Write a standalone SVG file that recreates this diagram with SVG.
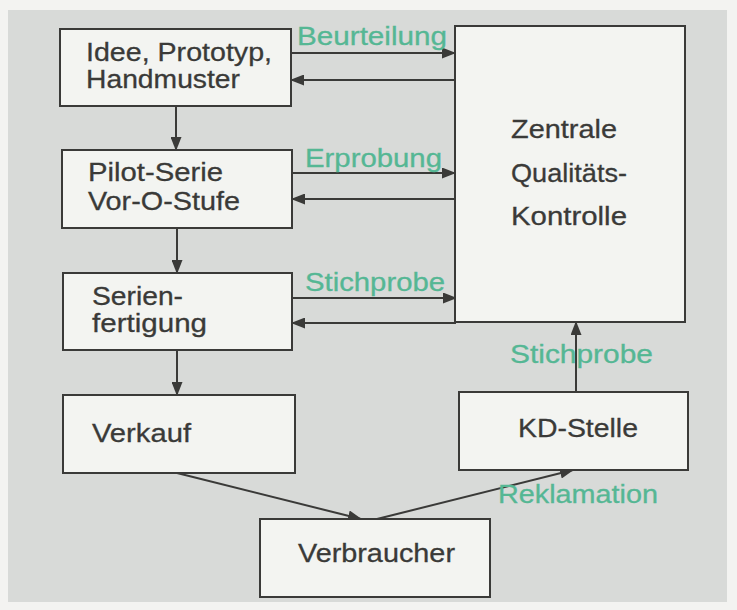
<svg xmlns="http://www.w3.org/2000/svg" width="737" height="610" viewBox="0 0 737 610">
<defs>
<style>
.box{fill:#f3f4f1;stroke:#3a3a38;stroke-width:2}
.t{font-family:"Liberation Sans",Arial,Helvetica,sans-serif;font-size:26px;fill:#3a3a38;stroke:#3a3a38;stroke-width:0.3}
.g{font-family:"Liberation Sans",Arial,Helvetica,sans-serif;font-size:25px;fill:#55b794;stroke:#55b794;stroke-width:0.3}
.c{stroke:#3a3a38;stroke-width:2;fill:none;marker-end:url(#ah)}
</style>
<marker id="ah" markerUnits="userSpaceOnUse" markerWidth="14" markerHeight="11" refX="13" refY="5.5" orient="auto">
<path d="M0,0 L14,5.5 L0,11 z" fill="#3a3a38"/>
</marker>
</defs>
<rect x="0" y="0" width="737" height="610" fill="#f3f3f1"/>
<rect x="8" y="10" width="719" height="592" fill="#d8dad8"/>

<g id="connectors">
<line class="c" x1="176" y1="106" x2="176" y2="150"/>
<line class="c" x1="177" y1="228" x2="177" y2="273"/>
<line class="c" x1="177" y1="350" x2="177" y2="395"/>
<line class="c" x1="291" y1="53" x2="455" y2="53"/>
<line class="c" x1="455" y1="80" x2="291" y2="80"/>
<line class="c" x1="292" y1="173" x2="455" y2="173"/>
<line class="c" x1="455" y1="199" x2="292" y2="199"/>
<line class="c" x1="292" y1="298" x2="456" y2="298"/>
<line class="c" x1="456" y1="323" x2="292" y2="323"/>
<line class="c" x1="576" y1="392" x2="576" y2="322"/>
<line class="c" x1="177" y1="473" x2="361" y2="519"/>
<line class="c" x1="377" y1="519" x2="573" y2="470"/>
</g>

<g id="n-idee">
<rect class="box" x="60" y="29" width="231" height="77"/>
<text class="t" x="86" y="61" textLength="186" lengthAdjust="spacingAndGlyphs">Idee, Prototyp,</text>
<text class="t" x="86" y="88" textLength="154" lengthAdjust="spacingAndGlyphs">Handmuster</text>
</g>
<g id="n-pilot">
<rect class="box" x="62" y="150" width="230" height="78"/>
<text class="t" x="88" y="181" textLength="135" lengthAdjust="spacingAndGlyphs">Pilot-Serie</text>
<text class="t" x="88" y="210" textLength="152" lengthAdjust="spacingAndGlyphs">Vor-O-Stufe</text>
</g>
<g id="n-serie">
<rect class="box" x="63" y="273" width="229" height="77"/>
<text class="t" x="92" y="305" textLength="91" lengthAdjust="spacingAndGlyphs">Serien-</text>
<text class="t" x="92" y="332" textLength="115" lengthAdjust="spacingAndGlyphs">fertigung</text>
</g>
<g id="n-verkauf">
<rect class="box" x="63" y="395" width="232" height="78"/>
<text class="t" x="92" y="442" textLength="99" lengthAdjust="spacingAndGlyphs">Verkauf</text>
</g>
<g id="n-zentrale">
<rect class="box" x="455" y="26" width="230" height="296"/>
<text class="t" x="511" y="138" textLength="106" lengthAdjust="spacingAndGlyphs">Zentrale</text>
<text class="t" x="511" y="182" textLength="116" lengthAdjust="spacingAndGlyphs">Qualitäts-</text>
<text class="t" x="511" y="225" textLength="116" lengthAdjust="spacingAndGlyphs">Kontrolle</text>
</g>
<g id="n-kd">
<rect class="box" x="459" y="392" width="229" height="78"/>
<text class="t" x="518" y="437" textLength="120" lengthAdjust="spacingAndGlyphs">KD-Stelle</text>
</g>
<g id="n-verbraucher">
<rect class="box" x="260" y="519" width="230" height="78"/>
<text class="t" x="298" y="562" textLength="157" lengthAdjust="spacingAndGlyphs">Verbraucher</text>
</g>

<g id="labels">
<text class="g" x="297" y="45" textLength="150" lengthAdjust="spacingAndGlyphs">Beurteilung</text>
<text class="g" x="305" y="167" textLength="137" lengthAdjust="spacingAndGlyphs">Erprobung</text>
<text class="g" x="305" y="291" textLength="140" lengthAdjust="spacingAndGlyphs">Stichprobe</text>
<text class="g" x="510" y="363" textLength="143" lengthAdjust="spacingAndGlyphs">Stichprobe</text>
<text class="g" x="498" y="503" textLength="160" lengthAdjust="spacingAndGlyphs">Reklamation</text>
</g>
</svg>
